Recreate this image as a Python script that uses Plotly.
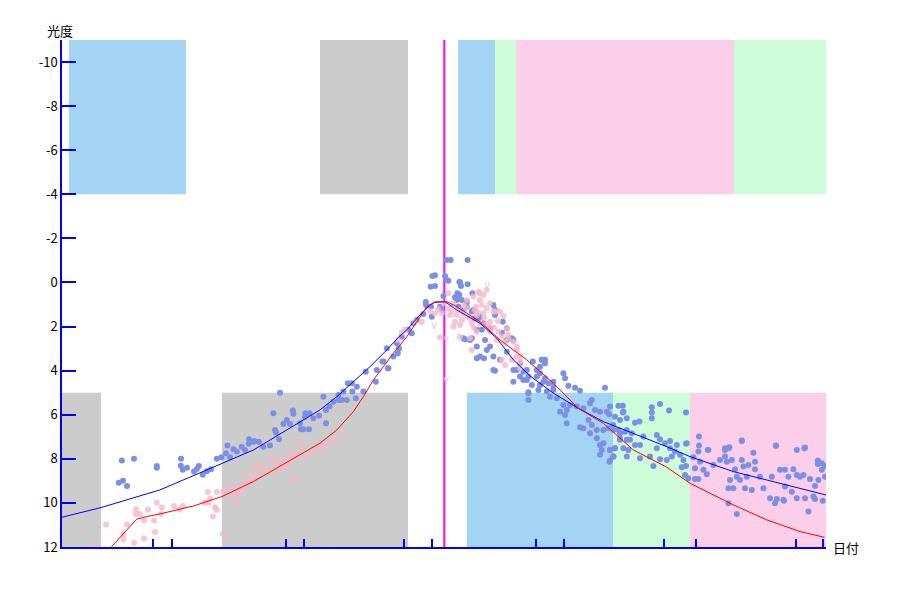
import plotly.graph_objects as go

# ---------------- data (x: days from start, y: magnitude) ----------------
blue_days = [
 29.9, 36, 28.4, 30.5, 32.5, 47.4, 47.4, 59.5, 59.4, 60.4, 62.5, 66, 67.4, 68.4, 70.4, 72.4, 74.5,
 77.4, 79.7, 82.7, 82, 84, 85.7, 87.4, 89.9, 91.5, 93.5, 93.4, 96.2, 98.4, 100.7, 104, 107, 108.5,
 105.7, 110.7, 114, 115.4, 115.7, 119.4, 121.7, 109, 95.7, 106.5, 112.4, 119, 121.5, 123.7, 120.7,
 123.5, 125.7, 128.5, 130.7, 132, 132, 133.7, 135.7, 138.4, 138.2, 139.9, 142.4, 140.7, 142.9, 144.9,
 145.2, 146.9, 147.4, 150.7, 151.9, 157.4, 156.9, 160.2, 162.9, 162.4, 167.9, 168.5,
 # peak region
 192.3, 194.3, 202.8, 185.2, 186.5, 191.5, 184.3, 186.5, 193.2, 192.3, 198.7, 199, 202.8, 199.5,
 197.7, 198.7, 196.5, 190.7, 205.2, 181.9, 182, 184.5, 189, 189.9, 184.9, 180.7, 177.4, 175.7, 173.2,
 174.9, 169.9, 167.4, 165.7, 160.7, 163.2, 202.4, 202.4, 198.2, 199.9, 197.4, 200.7, 204.9, 205.7,
 206.2, 208.2, 209, 215.7, 216.5, 216.5, 210.7, 209.9, 207.4, 214, 220.4, 219.9, 224.9, 200.7, 201.5,
 204, 204.9, 211.5, 207.4, 209, 212.4, 214, 215.7, 211, 207.4, 222.4, 222.4, 222.4, 219, 215.7, 216.5,
 225.7, 225.7, 229, 229, 232.4, 232.4, 237.4, 239.9, 241.5, 239, 240.7, 245.7, 234.9, 233.2, 227.4,
 230.7, 225.7,
 # decline
 235.4, 239.9, 241.5, 230.7, 233.2, 237.4, 239, 241.5, 243.2, 245.7, 239, 238.2, 242.4, 245.7, 250.7,
 251.5, 253.2, 256.5, 259, 271.5, 233.2, 233.2, 244, 247.4, 250.7, 249, 252.4, 254, 257.4, 260.7, 264,
 264.9, 266.5, 269, 272.4, 274, 276.5, 279, 282.4, 280.7, 263.2, 260.7, 259, 264.9, 267.4, 270.7,
 273.2, 275.7, 279, 281.5, 279, 276.5, 269, 269.9, 269, 274, 275.7, 274, 267.4, 264, 252.4, 251.5,
 282.4, 283.2,
 # tail
 278.2, 280.4, 280.4, 273.5, 294.9, 294.9, 294.9, 299, 303.5, 312, 286.5, 288.7, 290.7, 275.7, 278.2,
 282.4, 284.9, 279, 284, 286.5, 289, 270.7, 274, 276.5, 280.7, 282.4, 275.7, 273.7, 294, 289, 295.7,
 297.4, 299, 297.4, 301.5, 304, 304, 306.5, 307.4, 309, 312.4, 310.7, 312, 309.9, 311.5, 313.2, 299,
 302.4, 304.9, 315.7, 318.2, 318.5, 322.9, 319, 316.5, 320.7, 318.2, 316.5, 322.4, 325.7, 329, 331.5,
 333.2, 331.5, 332.4, 334.9, 336.5, 337.4, 339.9, 339.9, 340.7, 343.2, 346.5, 346.5, 345.7, 334,
 333.2, 335.7, 339, 341.5, 344.9, 350.7, 333.2, 337.4, 354, 356.5, 360.7, 356.9, 359, 361.5, 363.2,
 365.7, 367.4, 369, 367.4, 371.2, 370.7, 374, 376.5, 378.2, 379.9, 379.9, 381.5, 381.5, 367.4, 371.5,
 375.7, 373.2, 380.4, 364.9, 361.5, 354.9, 349, 342.4, 318.5, 312, 323.2, 331.5, 333.7, 339.9, 357,
 371.5, 377.9, 377.9, 357.4, 361, 376.5,
]
blue_mags = [
 8.08, 8.0, 9.08, 8.99, 9.23, 8.32, 8.40, 8.0, 8.31, 8.50, 8.41, 8.58, 8.46, 8.32, 8.72, 8.56, 8.47,
 8.0, 7.93, 7.40, 7.75, 7.93, 7.56, 7.67, 7.45, 7.60, 7.11, 7.32, 7.19, 7.23, 7.45, 7.40, 6.81, 7.11,
 5.93, 6.42, 6.42, 5.81, 5.96, 6.66, 5.93, 5.0, 7.22, 6.69, 6.24, 6.39, 6.11, 5.93, 6.66,
 6.66, 6.16, 6.05, 5.18, 6.39, 5.78, 5.63, 5.41, 5.33, 5.10, 5.33, 5.33, 4.95, 4.57, 4.57,
 4.95, 5.25, 4.73, 4.95, 4.05, 3.97, 4.50, 3.59, 3.89, 2.98, 3.21, 2.98,
 # peak region
 -1.02, -1.02, -1.02, -0.29, -0.33, -0.29, 0.19, 0.16, -0.08, -0.11, -0.02, -0.01, 0.08, 0.16,
 0.49, 0.57, 0.67, 0.61, 0.49, 0.88, 1.02, 1.10, 1.10, 1.25, 1.55, 1.43, 1.70, 1.85, 2.15,
 2.30, 2.46, 2.76, 3.36, 3.59, 3.89, 0.87, 1.10, 1.10, 0.79, 0.79, 1.25, 1.32, 1.25,
 1.63, 1.63, 1.55, 1.02, 1.25, 1.47, 1.85, 2.15, 2.15, 2.08, 1.78, 2.28, 2.53, 2.53, 2.58,
 2.61, 2.53, 2.61, 2.91, 3.36, 3.06, 2.91, 3.36, 3.44, 3.44, 2.08, 2.61, 3.14, 3.51, 3.97, 4.00,
 3.97, 2.61, 4.27, 3.66, 4.42, 3.97, 4.27, 3.51, 3.51, 3.82, 4.50, 4.73, 4.65, 5.03, 3.97,
 4.42, 4.50,
 # decline
 3.59, 3.51, 3.66, 4.05, 4.27, 3.97, 4.12, 4.35, 4.57, 4.50, 4.65, 4.88, 4.95, 4.88, 4.12,
 4.35, 4.68, 4.77, 4.91, 4.77, 4.98, 5.33, 5.18, 5.25, 5.56, 5.86, 5.78, 5.56, 5.63, 5.71, 5.48,
 5.33, 5.78, 5.86, 5.86, 5.63, 6.09, 6.24, 6.16, 5.86, 6.24, 6.61, 6.57, 6.46, 6.69, 6.69,
 6.61, 6.69, 6.84, 6.77, 7.14, 7.52, 7.37, 7.60, 7.82, 7.60, 7.90, 8.08, 7.07, 6.84, 6.39, 6.01,
 7.14, 7.60,
 # tail
 5.59, 5.59, 5.90, 5.98, 5.66, 5.90, 6.16, 5.51, 5.81, 5.90, 6.36, 6.31, 6.99, 6.46, 6.69,
 6.69, 6.84, 7.07, 7.14, 7.37, 7.37, 7.29, 7.60, 7.52, 7.52, 7.90, 7.90, 8.13, 7.90, 7.97, 8.32,
 6.92, 7.11, 7.52, 7.29, 7.19, 7.52, 7.67, 7.37, 7.82, 7.29, 8.05, 8.32, 8.38, 8.73, 8.88, 8.02,
 8.05, 7.90, 7.93, 7.67, 6.99, 7.60, 8.13, 8.43, 8.50, 8.92, 8.92, 8.70, 8.28, 8.05, 7.60,
 7.52, 7.90, 8.13, 8.05, 8.47, 8.81, 7.19, 8.05, 8.35, 8.28, 8.47, 8.13, 7.72, 8.96,
 9.33, 9.33, 8.96, 9.33, 9.41, 9.33, 10.01, 10.50, 9.79, 10.01, 9.86, 7.41, 8.50, 8.50, 8.81,
 8.47, 8.73, 8.81, 7.60, 7.52, 8.73, 8.92, 9.23, 8.96, 8.50, 8.20, 8.32, 8.81, 9.79, 9.79,
 9.71, 10.39, 9.90, 9.49, 9.26, 8.81, 8.81, 8.81, 7.40, 7.32, 7.60, 7.52, 7.47, 7.17, 7.40,
 7.49, 8.08, 8.23, 9.82, 9.90, 9.82,
]

pink_days = [
 17.4, 22, 30.7, 30.7, 32.5, 36, 37, 37, 39, 41, 41, 43, 46.5, 47.4, 46, 49.9, 49.5, 56, 58.7, 60.4,
 71.2, 73.2, 72.9, 74, 75.4, 76.5, 77.5, 77.4, 80.5, 80.7, 84, 85.7, 87.4, 87.9, 89, 90.7, 91.9, 92.4,
 95.7, 96.2, 98.4, 99, 100.7, 104, 105.7, 107.4, 108.2, 113.2, 114, 115.7, 116.5, 119, 119, 122.4,
 126, 128.2, 129.9, 132.4, 134.9, 136.5, 141, 116, 110.7, 111.5, 104.9, 103.7, 96.5, 94.9, 167.9,
 # peak region
 209, 210.7, 205.7, 202.4, 195.7, 193.2, 189.9, 194, 196.5, 199, 195.7, 204, 207.4, 210.7, 212.4,
 215.7, 219, 214, 209, 207.4, 214, 218.2, 222.4, 217.4, 221.5, 227.4, 204.9, 219.9, 221.5, 224.9,
 227.4, 209.9, 212.4, 206.5, 200.7, 199, 193.2, 186.5, 194.9, 197.4, 189, 204, 208.2, 209, 214,
 216.5, 220.7, 223.2, 225.7, 227.4, 169.9, 171.5, 176.5, 179.9, 229, 229, 229,
 201, 203, 205, 207, 211, 213, 198, 200, 202, 206, 208, 212, 216, 218, 220, 223, 188, 191, 184,
]
pink_mags = [
 11.89, 10.98, 11.41, 11.65, 10.98, 11.81, 10.30, 10.50, 10.50, 10.80, 11.62, 10.30, 11.32, 9.99,
 10.80, 10.21, 10.50, 10.14, 10.30, 10.14,
 9.99, 9.99, 9.50, 9.80, 10.62, 10.20, 9.50, 10.32, 11.41, 9.50, 9.29, 9.68, 9.56, 9.99, 9.49, 9.26,
 8.73, 9.11, 8.96, 8.47, 8.23, 8.58, 8.38, 8.58, 8.00, 8.20, 8.47, 8.20, 7.75, 8.90, 7.72, 7.72, 7.29,
 7.87, 7.67, 7.45, 7.29, 7.52, 7.29, 7.07, 6.81, 7.97, 8.05, 8.35, 7.97, 8.58, 8.88, 9.11, 2.61,
 # peak region
 0.49, 0.57, 0.64, 0.79, 0.94, 1.17, 1.40, 1.47, 1.78, 1.93, 2.00, 1.63, 1.47, 1.40, 1.17,
 1.32, 1.32, 1.78, 1.85, 2.23, 2.23, 2.23, 2.08, 2.61, 2.69, 2.91, 3.06, 3.51, 3.74, 3.51,
 3.36, 1.02, 0.34, 1.25, 1.40, 2.46, 0.49, 1.40, 1.32, 1.47, 2.49, 2.53, 0.42, 0.79, 0.94,
 1.32, 1.52, 2.53, 2.69, 3.06, 2.28, 2.15, 1.78, 1.78, 3.36, 3.59, 3.89,
 1.05, 1.55, 1.85, 1.10, 1.60, 2.00, 1.25, 1.70, 1.15, 2.05, 1.35, 1.90, 2.05, 1.75, 2.45, 2.35,
 1.20, 0.95, 1.30,
]

limit_days = [212.5, 186, 192, 192]
limit_mags = [0.2, 2.0, 2.65, 4.5]

total_curve_days = [0, 19.5, 49, 80, 95.7, 112.4, 129, 137.4, 145.7, 154, 162.4, 168.2, 172.4, 179,
                    184, 186.5, 191.5, 197.4, 209, 217.4, 225.7, 234, 245.7, 258.2, 270.7, 285.7,
                    302.4, 314, 335.7, 352.4, 369, 382]
total_curve_mags = [10.65, 10.21, 9.41, 8.20, 7.60, 6.69, 5.78, 5.18, 4.50, 3.82, 3.06, 2.49, 2.15,
                    1.47, 1.02, 0.90, 0.87, 1.25, 1.85, 2.53, 3.51, 4.24, 5.02, 5.71, 6.31, 6.84,
                    7.45, 7.90, 8.58, 8.96, 9.33, 9.64]

nuc_curve_days = [24.8, 37.3, 42.3, 49, 65.7, 80, 95.7, 112.4, 129, 137.4, 145.7, 150.7, 155.7, 160.7,
                  165.7, 172.4, 177.4, 182.4, 186.5, 192.4, 197.4, 209, 219, 232.4, 245.7, 258.2,
                  270.7, 285.7, 302.4, 314, 335.7, 352.4, 369, 381.2]
nuc_curve_mags = [11.98, 10.74, 10.62, 10.50, 10.14, 9.71, 9.03, 8.17, 7.29, 6.69, 5.86, 5.18, 4.42,
                  3.82, 3.21, 2.46, 1.78, 1.10, 0.88, 0.87, 1.10, 1.78, 2.61, 3.51, 4.57, 5.71,
                  6.39, 7.60, 8.38, 9.11, 10.09, 10.77, 11.30, 11.56]

perihelion_day = 191.15
x_tick_days = [45.5, 55, 112, 121, 171, 185, 237, 251, 301, 317, 367, 380.5]
y_tick_vals = [-10, -8, -6, -4, -2, 0, 2, 4, 6, 8, 10, 12]

# observing-condition bands
top_band_start = [3.5, 129, 198, 216.5, 227, 336]
top_band_end = [62, 173, 216.5, 227, 336, 382]
top_band_kind = ["blue", "gray", "blue", "green", "pink", "green"]
bottom_band_start = [0, 80, 202.5, 275.5, 314]
bottom_band_end = [19.5, 173, 275.5, 314, 382]
bottom_band_kind = ["gray", "gray", "blue", "green", "pink"]
top_band_mag = (-11, -4)
bottom_band_mag = (5, 12)

# ---------------- styling ----------------
band_colors = {"blue": "#a4d4f4", "gray": "#cccccc", "green": "#cefcd8", "pink": "#fbcfe9"}
FONT = "Noto Sans CJK JP"

fig = go.Figure()

shapes = []
for s, e, k in zip(top_band_start, top_band_end, top_band_kind):
    shapes.append(dict(type="rect", xref="x", yref="y", x0=s, x1=e, y0=top_band_mag[0],
                       y1=top_band_mag[1], fillcolor=band_colors[k], line_width=0, layer="below"))
for s, e, k in zip(bottom_band_start, bottom_band_end, bottom_band_kind):
    shapes.append(dict(type="rect", xref="x", yref="y", x0=s, x1=e, y0=bottom_band_mag[0],
                       y1=bottom_band_mag[1], fillcolor=band_colors[k], line_width=0, layer="below"))
shapes.append(dict(type="line", xref="x", yref="paper", x0=perihelion_day, x1=perihelion_day,
                   y0=0, y1=1, line=dict(color="#ff00ff", width=2), layer="below"))

fig.add_trace(go.Scatter(x=blue_days, y=blue_mags, mode="markers",
                         marker=dict(color="#7b90e4", size=6, line_width=0), showlegend=False))
fig.add_trace(go.Scatter(x=pink_days, y=pink_mags, mode="markers",
                         marker=dict(color="#f6b8c8", size=6, line_width=0, opacity=0.8),
                         showlegend=False))
fig.add_trace(go.Scatter(x=limit_days, y=limit_mags, mode="text", text=["V"] * len(limit_days),
                         textfont=dict(color="#f6b8c8", size=9, family=FONT), showlegend=False))
fig.add_trace(go.Scatter(x=total_curve_days, y=total_curve_mags, mode="lines",
                         line=dict(color="#0000ff", width=1), showlegend=False))
fig.add_trace(go.Scatter(x=nuc_curve_days, y=nuc_curve_mags, mode="lines",
                         line=dict(color="#ff0000", width=1), showlegend=False))

fig.update_layout(
    width=900, height=600,
    margin=dict(l=54, r=82, t=32, b=61),
    plot_bgcolor="white", paper_bgcolor="white",
    shapes=shapes,
    font=dict(family=FONT, size=12, color="black"),
    xaxis=dict(range=[0, 382], showgrid=False, zeroline=False, showline=True,
               linecolor="#0000ff", linewidth=1.5, ticks="inside", ticklen=8,
               tickcolor="#0000ff", tickwidth=1.5, tickvals=x_tick_days, showticklabels=False),
    yaxis=dict(range=[12, -11], showgrid=False, zeroline=False, showline=True,
               linecolor="#0000ff", linewidth=1.5, ticks="inside", ticklen=14,
               tickcolor="#0000ff", tickwidth=1.5, tickvals=y_tick_vals,
               ticktext=[str(v) for v in y_tick_vals], tickfont=dict(size=13)),
    annotations=[
        dict(text="光度", xref="paper", yref="paper", x=-0.003, y=1.0, yshift=10,
             xanchor="center", yanchor="middle", showarrow=False, font=dict(size=13)),
        dict(text="日付", xref="paper", yref="paper", x=1.0, y=0, xshift=5,
             xanchor="left", yanchor="middle", showarrow=False, font=dict(size=13)),
    ],
)

fig.write_html("out.html")
